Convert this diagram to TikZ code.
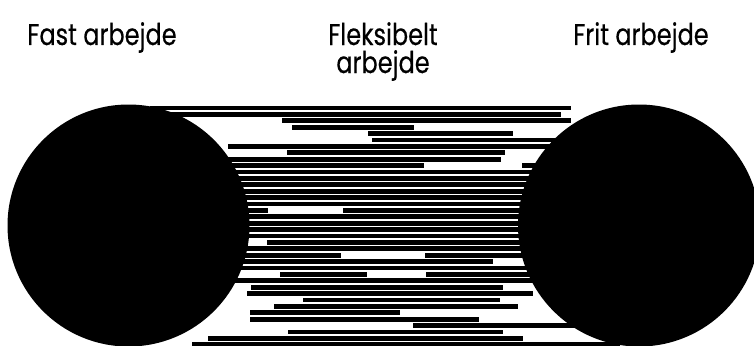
\documentclass[tikz,border=0pt]{standalone}
\usepackage{fontspec}
\setmainfont{Poppins}[FakeStretch=0.8,FakeBold=0.4]
\begin{document}
\begin{tikzpicture}[x=1pt,y=-1pt,
  stripe/.style={fill=black},
  disc/.style={fill=black},
  lbl/.style={font=\fontsize{30}{28}\selectfont, text=black, inner sep=0pt, align=center}]
\useasboundingbox (0,0) rectangle (754,345);
\fill[white] (0,0) rectangle (754,345);
% stripes: y / start / end
\foreach \yy/\xa/\xb in {
  108/150/570.7, 114.4/128.5/561, 120.8/281.7/570.7, 127.2/291.7/414,
  133.6/368/513, 140/372/639, 146.4/228.3/639, 152.8/286.7/505,
  159.2/128.5/501, 165.6/128.5/424.3, 165.6/521.7/639,
  172/128.5/639, 178.4/128.5/639, 184.8/128.5/639, 191.2/128.5/639,
  197.6/128.5/639, 204/128.5/639, 210.4/128.5/268.3, 210.4/342.7/639,
  216.8/128.5/639, 223.2/128.5/639, 229.6/128.5/639, 236/128.5/639,
  242.4/267.3/639, 248.8/128.5/639, 255.2/128.5/340.7, 255.2/425/639,
  261.6/128.5/492.7, 268/128.5/639, 274.4/280/367, 274.4/426/639,
  280.8/128.5/639, 287.2/251/503.3, 293.6/246.7/533.3, 300/303.3/500,
  306.4/274/517.7, 312.8/250/400, 319.2/250/479.3, 325.6/413.3/639,
  332/288.3/503.3, 338.4/208.3/522.7, 344.8/191.7/620}
  {\fill[stripe] (\xa,\yy-2.4) rectangle (\xb,\yy+2.4);}
% discs
\fill[disc] (128.5,225.5) circle[radius=121pt];
\fill[disc] (639,225.5) circle[radius=121pt];
% labels
\node[lbl, anchor=base] (fast) at (102,45) {Fast arbejde};
\node[lbl, anchor=base] (flex) at (383,73) {Fleksibelt\\arbejde};
\node[lbl, anchor=base] (frit) at (641,45) {Frit arbejde};
\end{tikzpicture}
\end{document}
